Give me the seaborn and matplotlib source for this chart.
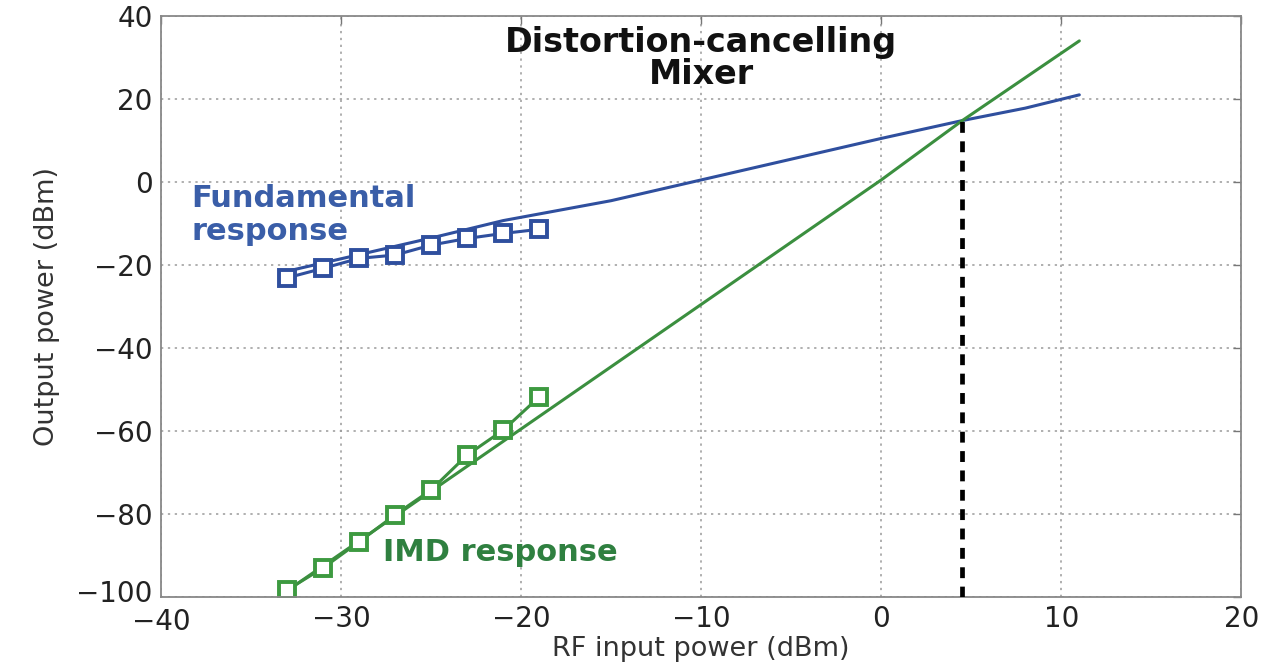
import numpy as np
import pandas as pd
import matplotlib
matplotlib.use("Agg")
import matplotlib.pyplot as plt
import matplotlib.transforms as mtransforms
import seaborn as sns

# ---- data ----
fund_meas_x = [-33, -31, -29, -27, -25, -23, -21, -19]
fund_meas_y = [-23.1, -20.8, -18.4, -17.6, -15.2, -13.6, -12.4, -11.4]
imd_meas_x = [-33, -31, -29, -27, -25, -23, -21, -19]
imd_meas_y = [-98.3, -93.0, -86.7, -80.2, -74.2, -65.8, -59.8, -51.8]

fund_sim_x = [-33, -29, -25, -21, -15, -10, -5, 0, 4.5, 8, 11]
fund_sim_y = [-21.5, -17.5, -13.5, -9.3, -4.5, 0.5, 5.5, 10.5, 14.8, 17.8, 21.0]
imd_sim_x = [-33, -25, -20, -15, -10, -5, 0, 4.5, 11]
imd_sim_y = [-98.5, -74.5, -59.5, -44.5, -29.5, -14.5, 0.5, 14.8, 34.0]

ip3_x = [4.5, 4.5]
ip3_y = [-100, 14.8]

xticks = [-40, -30, -20, -10, 0, 10, 20]
yticks = [-100, -80, -60, -40, -20, 0, 20, 40]

title_lines = ["Distortion-cancelling", "Mixer"]
fund_label = ["Fundamental", "response"]
imd_label = "IMD response"
xlabel = "RF input power (dBm)"
ylabel = "Output power (dBm)"

# ---- style ----
sns.set_theme(style="white")
plt.rcParams["font.family"] = ["DejaVu Sans"]

BLUE = "#2f4f9e"
BLUE_TXT = "#3a5ea8"
GREEN = "#3b8f3f"
GREEN_MK = "#3d9a40"
GREEN_TXT = "#2f8040"

fig = plt.figure(figsize=(12.68, 6.72), dpi=100)
ax = fig.add_axes([0.127, 0.1116, 0.852, 0.8646])

df_fs = pd.DataFrame({"x": fund_sim_x, "y": fund_sim_y})
df_is = pd.DataFrame({"x": imd_sim_x, "y": imd_sim_y})
df_fm = pd.DataFrame({"x": fund_meas_x, "y": fund_meas_y})
df_im = pd.DataFrame({"x": imd_meas_x, "y": imd_meas_y})

ax.grid(True, linestyle=(0, (1.5, 3)), color="#9a9a9a", lw=1.1)
ax.set_axisbelow(True)

sns.lineplot(data=df_fs, x="x", y="y", ax=ax, color=BLUE, lw=2.2, sort=False)
sns.lineplot(data=df_is, x="x", y="y", ax=ax, color=GREEN, lw=2.2, sort=False)
sns.lineplot(data=df_fm, x="x", y="y", ax=ax, color=BLUE, lw=2.2, sort=False,
             marker="s", markersize=12, markerfacecolor="white",
             markeredgecolor=BLUE, markeredgewidth=2.8)
sns.lineplot(data=df_im, x="x", y="y", ax=ax, color=GREEN, lw=2.2, sort=False,
             marker="s", markersize=12, markerfacecolor="white",
             markeredgecolor=GREEN_MK, markeredgewidth=2.8)
ax.plot(ip3_x, ip3_y, color="black", lw=3.4, linestyle=(0, (2.3, 1.8)),
        solid_capstyle="butt", dash_capstyle="butt", zorder=5)

ax.set_xlim(-40, 20)
ax.set_ylim(-100, 40)
ax.set_xticks(xticks)
ax.set_yticks(yticks)
ax.set_xticklabels([("\u2212" if v < 0 else "") + str(abs(v)) for v in xticks])
ax.set_yticklabels([("\u2212" if v < 0 else "") + str(abs(v)) for v in yticks])
ax.tick_params(axis="both", which="major", direction="in", length=6, width=1,
               color="#777777", labelsize=20, labelcolor="#222222",
               top=True, right=True, pad=6)
for s in ax.spines.values():
    s.set_color("#888888")
    s.set_linewidth(1.3)

# nudge the -100 label up slightly so it does not collide with -40
lab = ax.get_yticklabels()[0]
lab.set_transform(lab.get_transform() +
                  mtransforms.ScaledTranslation(0, 6 / 100, fig.dpi_scale_trans))
xl = ax.get_xticklabels()[0]
xl.set_transform(xl.get_transform() +
                 mtransforms.ScaledTranslation(0, -3 / 100, fig.dpi_scale_trans))

ax.set_xlabel(xlabel, fontsize=19.5, color="#333333", labelpad=0)
ax.set_ylabel(ylabel, fontsize=19.5, color="#333333", labelpad=12)

ax.text(-10.0, 33.7, title_lines[0], ha="center", va="center",
        fontsize=24, fontweight="bold", color="#111111")
ax.text(-10.0, 25.8, title_lines[1], ha="center", va="center",
        fontsize=24, fontweight="bold", color="#111111")
ax.text(-38.3, -3.9, fund_label[0], ha="left", va="center",
        fontsize=22, fontweight="bold", color=BLUE_TXT)
ax.text(-38.3, -12.0, fund_label[1], ha="left", va="center",
        fontsize=22, fontweight="bold", color=BLUE_TXT)
ax.text(-27.7, -89.2, imd_label, ha="left", va="center",
        fontsize=22, fontweight="bold", color=GREEN_TXT)

fig.savefig("out.png", dpi=100)
